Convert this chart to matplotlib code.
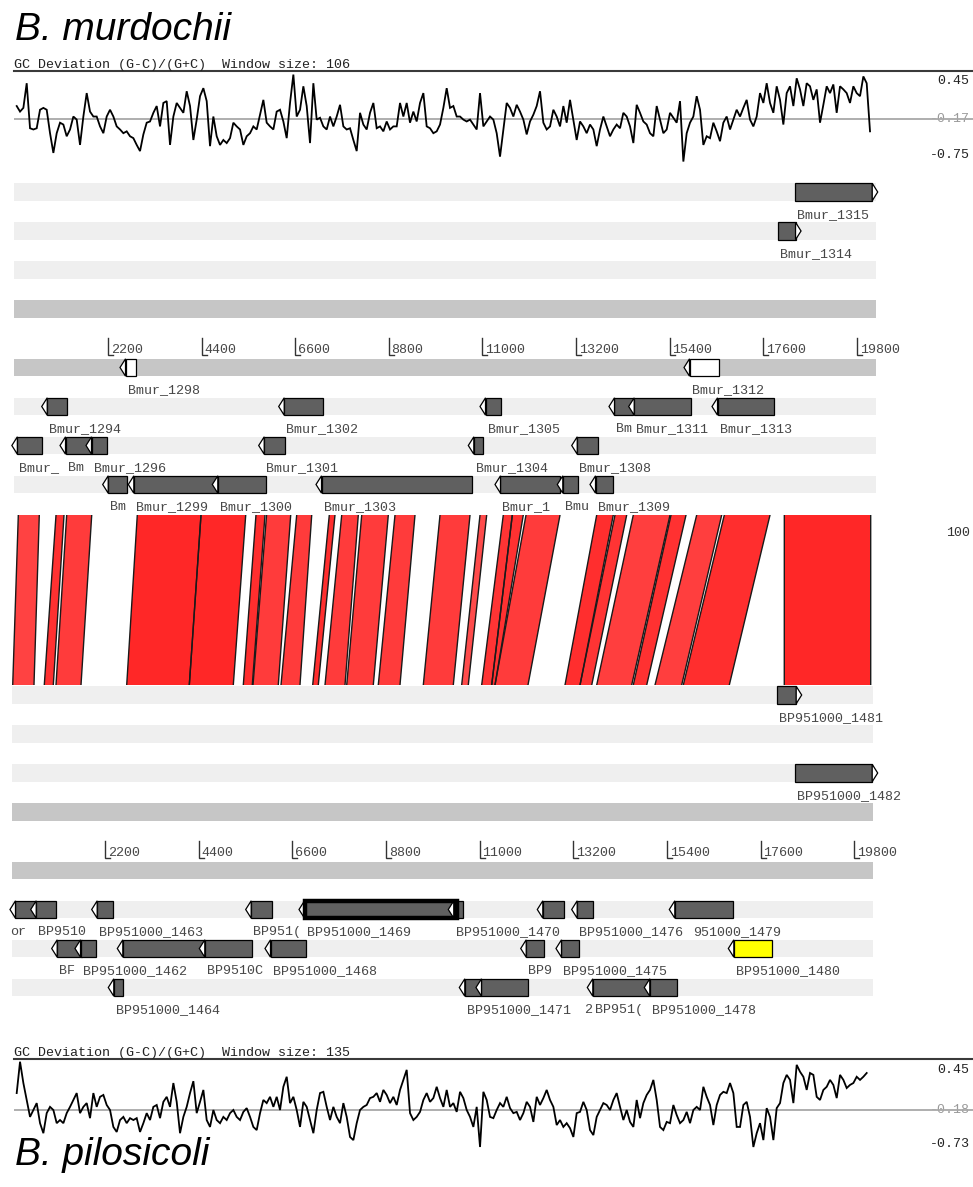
import numpy as np
import matplotlib
matplotlib.use("Agg")
import matplotlib.pyplot as plt
from matplotlib.patches import Polygon, Rectangle
from matplotlib.transforms import blended_transform_factory as blend

# ---------------------------------------------------------------- data
top_name = "B. murdochii"
bot_name = "B. pilosicoli"
top_length = 20250
bot_length = 20236
top_window = 106
bot_window = 135

# GC deviation (G-C)/(G+C), sliding windows across each region
gc_top_range = (54, 20107)
gc_top = [
    0.04, -0.05, 0.01, 0.41, -0.32, -0.34, -0.32, -0.02, 0.01, -0.02,
    -0.40, -0.72, -0.40, -0.23, -0.26, -0.45, -0.34, -0.13, -0.18, -0.59,
    -0.13, 0.25, -0.05, -0.13, -0.13, -0.29, -0.40, -0.13, -0.02, -0.13,
    -0.29, -0.34, -0.40, -0.37, -0.45, -0.48, -0.59, -0.69, -0.42, -0.23,
    -0.21, -0.07, 0.04, -0.29, 0.09, 0.12, -0.59, -0.13, 0.09, 0.01,
    -0.07, 0.28, 0.04, -0.51, -0.18, 0.20, 0.33, 0.12, -0.61, -0.13,
    -0.45, -0.59, -0.51, -0.56, -0.48, -0.23, -0.29, -0.34, -0.59, -0.45,
    -0.40, -0.29, -0.34, -0.10, 0.14, -0.23, -0.29, -0.34, -0.05, -0.02,
    -0.21, -0.48, 0.09, 0.55, -0.13, -0.02, 0.36, 0.04, -0.56, 0.41,
    -0.18, -0.15, -0.29, -0.34, -0.13, -0.29, -0.13, 0.06, -0.29, -0.34,
    -0.32, -0.51, -0.69, -0.07, -0.26, -0.34, -0.07, 0.09, -0.32, -0.29,
    -0.37, -0.21, -0.34, -0.29, -0.29, 0.09, -0.13, 0.09, -0.23, -0.05,
    -0.21, 0.09, 0.25, -0.29, -0.32, -0.40, -0.37, -0.26, 0.01, 0.33,
    0.01, 0.04, -0.13, -0.13, -0.18, -0.21, -0.18, -0.26, -0.34, 0.25,
    -0.29, -0.21, -0.13, -0.18, -0.40, -0.78, -0.34, 0.09, 0.01, -0.13,
    0.06, -0.05, -0.18, -0.42, -0.21, -0.10, 0.04, 0.28, -0.23, -0.34,
    -0.29, -0.02, -0.13, -0.29, 0.04, -0.23, 0.14, -0.18, -0.51, -0.21,
    -0.29, -0.40, -0.26, -0.34, -0.61, -0.34, -0.13, -0.29, -0.45, -0.34,
    -0.26, -0.32, -0.07, -0.13, -0.29, -0.56, 0.06, -0.07, -0.21, -0.26,
    -0.40, -0.45, 0.04, -0.18, -0.40, -0.34, -0.07, -0.15, -0.23, 0.12,
    -0.86, -0.40, -0.23, -0.13, 0.20, -0.02, -0.59, -0.45, -0.48, -0.23,
    -0.37, -0.53, -0.23, -0.13, -0.34, -0.18, -0.02, -0.13, 0.01, 0.14,
    -0.18, -0.29, -0.13, 0.25, 0.09, 0.41, 0.09, -0.07, 0.36, 0.14,
    -0.26, 0.25, 0.36, 0.04, 0.49, 0.31, 0.04, 0.41, 0.36, 0.14,
    0.31, -0.23, 0.06, 0.36, 0.25, 0.39, -0.07, 0.36, 0.31, 0.25,
    0.09, 0.36, 0.25, 0.20, 0.52, 0.41, -0.37,
]
gc_top_marks = [0.45, -0.17, -0.75]

gc_bot_range = (54, 20029)
gc_bot = [
    0.09, 0.59, 0.25, -0.02, -0.29, -0.18, -0.07, -0.39, -0.55, -0.23,
    -0.13, -0.18, -0.39, -0.34, -0.39, -0.23, -0.13, -0.02, 0.09, -0.23,
    -0.13, -0.07, -0.31, 0.09, -0.13, 0.03, 0.06, -0.10, -0.18, -0.45,
    -0.53, -0.34, -0.29, -0.39, -0.31, -0.34, -0.31, -0.53, -0.39, -0.23,
    -0.34, -0.13, -0.10, -0.31, -0.05, 0.03, -0.13, 0.25, -0.05, -0.55,
    -0.29, -0.13, 0.09, 0.28, -0.23, -0.05, 0.14, -0.34, -0.45, -0.18,
    -0.34, -0.39, -0.29, -0.34, -0.23, -0.18, -0.29, -0.34, -0.21, -0.15,
    -0.29, -0.45, -0.50, -0.23, -0.02, -0.07, 0.03, -0.13, 0.03, -0.18,
    0.19, 0.35, -0.07, 0.03, -0.18, -0.45, -0.05, -0.13, -0.34, -0.55,
    -0.18, 0.09, 0.11, -0.13, -0.34, -0.13, -0.29, -0.39, -0.07, -0.29,
    -0.61, -0.66, -0.39, -0.18, -0.13, -0.10, 0.01, 0.03, 0.09, -0.05,
    0.14, 0.06, -0.07, 0.03, -0.10, 0.14, 0.30, 0.46, -0.23, -0.34,
    -0.29, -0.21, -0.02, 0.09, -0.05, 0.01, 0.19, 0.01, -0.13, 0.14,
    -0.13, -0.07, -0.21, 0.11, 0.01, -0.18, -0.29, -0.45, -0.13, -0.77,
    0.11, -0.02, -0.29, -0.31, -0.18, -0.07, -0.13, 0.03, -0.15, -0.23,
    -0.21, -0.34, -0.23, -0.05, -0.13, -0.37, 0.03, -0.10, 0.01, 0.14,
    -0.02, -0.13, -0.42, -0.34, -0.45, -0.39, -0.47, -0.61, -0.23, -0.21,
    -0.05, -0.18, -0.50, -0.58, -0.29, -0.18, -0.07, -0.10, -0.18, -0.02,
    0.09, -0.13, -0.34, -0.18, -0.37, -0.45, -0.02, -0.31, -0.07, 0.06,
    0.14, 0.30, -0.02, -0.45, -0.50, -0.37, -0.39, -0.10, -0.26, -0.39,
    -0.34, -0.21, -0.39, -0.18, -0.13, -0.18, 0.19, 0.03, -0.10, -0.42,
    -0.10, 0.06, 0.11, 0.09, 0.25, 0.09, -0.45, -0.45, -0.10, -0.05,
    -0.29, -0.77, -0.55, -0.39, -0.66, -0.15, -0.29, -0.66, -0.15, -0.07,
    0.25, 0.38, 0.30, -0.07, 0.54, 0.43, 0.35, 0.14, 0.41, 0.38,
    0.03, -0.02, 0.14, 0.19, 0.30, 0.22, 0.01, 0.38, 0.30, 0.17,
    0.22, 0.25, 0.35, 0.30, 0.35, 0.41,
]
gc_bot_marks = [0.45, -0.18, -0.73]

scale_ticks = [2200, 4400, 6600, 8800, 11000, 13200, 15400, 17600, 19800]

# genes: start, end, strand, track, kind, label
top_genes = [
    (18344, 20288, 1, "f1", "cds", "Bmur_1315"),
    (17937, 18486, 1, "f2", "cds", "Bmur_1314"),
    (2482, 2851, -1, "rs", "misc", "Bmur_1298"),
    (15736, 16565, -1, "rs", "misc", "Bmur_1312"),
    (642, 1229, -1, "r1", "cds", "Bmur_1294"),
    (6211, 7259, -1, "r1", "cds", "Bmur_1302"),
    (10942, 11428, -1, "r1", "cds", "Bmur_1305"),
    (13973, 14537, -1, "r1", "cds", "Bm"),
    (14436, 15907, -1, "r1", "cds", "Bmur_1311"),
    (16394, 17851, -1, "r1", "cds", "Bmur_1313"),
    (-60, 642, -1, "r2", "cds", "Bmur_"),
    (1072, 1817, -1, "r2", "cds", "Bm"),
    (1683, 2183, -1, "r2", "cds", "Bmur_1296"),
    (5741, 6366, -1, "r2", "cds", "Bmur_1301"),
    (10667, 11019, -1, "r2", "cds", "Bmur_1304"),
    (13097, 13722, -1, "r2", "cds", "Bmur_1308"),
    (2075, 2653, -1, "r3", "cds", "Bm"),
    (2677, 4792, -1, "r3", "cds", "Bmur_1299"),
    (4651, 5913, -1, "r3", "cds", "Bmur_1300"),
    (7088, 10747, -1, "r3", "cds", "Bmur_1303"),
    (11294, 12822, -1, "r3", "cds", "Bmur_1"),
    (12758, 13252, -1, "r3", "cds", "Bmu"),
    (13527, 14060, -1, "r3", "cds", "Bmur_1309"),
]

bot_genes = [
    (17980, 18567, 1, "f1", "cds", "BP951000_1481"),
    (18410, 20353, 1, "f3", "cds", "BP951000_1482"),
    (-38, 573, -1, "r1", "cds", ""),
    (449, 1043, -1, "r1", "cds", "BP9510"),
    (1882, 2376, -1, "r1", "cds", "BP951000_1463"),
    (5501, 6112, -1, "r1", "cds", "BP951("),
    (6754, 10460, -1, "r1", "highlight", "BP951000_1469"),
    (10262, 10601, -1, "r1", "cds", "BP951000_1470"),
    (12354, 12981, -1, "r1", "cds", ""),
    (13162, 13670, -1, "r1", "cds", "BP951000_1476"),
    (15456, 16946, -1, "r1", "cds", ""),
    (942, 1647, -1, "r2", "cds", "BF"),
    (1490, 1983, -1, "r2", "cds", "BP951000_1462"),
    (2484, 4545, -1, "r2", "cds", ""),
    (4411, 5657, -1, "r2", "cds", "BP9510C"),
    (5955, 6918, -1, "r2", "cds", "BP951000_1468"),
    (11964, 12511, -1, "r2", "cds", "BP9"),
    (12793, 13334, -1, "r2", "cds", "BP951000_1475"),
    (16843, 17863, -1, "r2", "selected", "BP951000_1480"),
    (2272, 2611, -1, "r3", "cds", "BP951000_1464"),
    (10521, 11031, -1, "r3", "cds", "BP951000_1471"),
    (10913, 12143, -1, "r3", "cds", ""),
    (13529, 15003, -1, "r3", "cds", "BP951("),
    (14868, 15644, -1, "r3", "cds", "BP951000_1478"),
]
# label fragments left over where neighbouring names overlap
bot_notes = [(-38, "r1", "or"), (16013, "r1", "951000_1479"), (13450, "r3", "2")]

# matching regions: top start, top end, bottom start, bottom end, % identity
matches = [
    (92, 585, 26, 526, 91),
    (978, 1166, 768, 980, 96),
    (1229, 1817, 1043, 1631, 93),
    (2888, 4385, 2705, 4176, 99),
    (4385, 5436, 4176, 5210, 99),
    (5677, 5889, 5445, 5656, 97),
    (5926, 6493, 5673, 6267, 93),
    (6634, 6987, 6331, 6777, 93),
    (7400, 7534, 7076, 7207, 97),
    (7692, 8082, 7365, 7835, 93),
    (8162, 8787, 7875, 8500, 93),
    (8944, 9414, 8617, 9127, 93),
    (10002, 10707, 9675, 10380, 93),
    (10942, 11099, 10577, 10732, 88),
    (11489, 11701, 11047, 11282, 95),
    (11701, 11959, 11282, 11360, 96),
    (12023, 12822, 11360, 12135, 93),
    (13684, 14074, 13005, 13358, 97),
    (14114, 14389, 13358, 13633, 95),
    (14544, 15407, 13750, 14572, 92),
    (15431, 15783, 14610, 14925, 96),
    (16034, 16622, 15120, 15747, 92),
    (16683, 17757, 15785, 16866, 97),
    (18093, 20123, 18158, 20189, 99),
]
identity_max = 100

# ---------------------------------------------------------------- layout
W, H = 973, 1187
BP_PER_PX = 23.5
TOP_ORIGIN = 14.4
BOT_ORIGIN = 11.6
ROW_PX = 39.0
TRACK_Y = {"f1": 0, "f2": 1, "f3": 2, "fs": 3, "rs": 4.5, "r1": 5.5, "r2": 6.5, "r3": 7.5}
STRAND_TRACKS = ("fs", "rs")
BAND = 17.4 / ROW_PX
HEAD = 5.5 * BP_PER_PX
PAD = 2.0 * BP_PER_PX

MONO = "Liberation Mono"
MONO_SIZE = 9.6
LABEL_COLOR = "#474747"
LIGHT_BAND = "#efefef"
DARK_BAND = "#c6c6c6"
KIND_FACE = {"cds": "#606060", "highlight": "#606060", "misc": "white", "selected": "#ffff00"}

fig = plt.figure(figsize=(W / 100, H / 100), dpi=100)
fig.patch.set_facecolor("white")


def px_axes(top, bottom):
    ax = fig.add_axes([0, 1 - bottom / H, 1, (bottom - top) / H])
    ax.set_facecolor("none")
    for s in ax.spines.values():
        s.set_visible(False)
    ax.set_xticks([])
    ax.set_yticks([])
    return ax


def set_x(ax, origin):
    ax.set_xlim(-origin * BP_PER_PX, (W - origin) * BP_PER_PX)


def gc_panel(top_px, bottom_px, centre_px, px_per_unit, values, span, marks, window):
    ax = px_axes(top_px, bottom_px)
    set_x(ax, TOP_ORIGIN)
    centre = marks[1]
    ax.set_ylim(centre - (bottom_px - centre_px) / px_per_unit,
                centre + (centre_px - top_px) / px_per_unit)
    ax.spines["top"].set_visible(True)
    ax.spines["top"].set_color("#3a3a3a")
    ax.spines["top"].set_linewidth(1.5)
    ax.spines["top"].set_bounds(0, ax.get_xlim()[1])
    ax.hlines(centre, 0, ax.get_xlim()[1], color="#a8a8a8", lw=1.3, zorder=1)
    xs = np.linspace(span[0], span[1], len(values))
    ax.plot(xs, values, color="black", lw=1.3, zorder=2, clip_on=False,
            solid_joinstyle="miter")
    tr = blend(ax.transAxes, ax.transData)
    for v in marks:
        ax.text(0.9965, v, f"{v:.2f}", transform=tr, ha="right", va="center",
                family=MONO, fontsize=MONO_SIZE,
                color="#9a9a9a" if v == centre else "#222222", zorder=0)
    ax.text(0, 1.0, f"GC Deviation (G-C)/(G+C)  Window size: {window}",
            transform=blend(ax.transData, ax.transAxes), ha="left", va="bottom",
            family=MONO, fontsize=MONO_SIZE, color="#222222")
    return ax


def draw_gene(ax, start, end, strand, y, kind):
    h = BAND
    if strand > 0:
        box0, box1, tip, base = start, end - HEAD, end, end - HEAD
    else:
        box0, box1, tip, base = start + HEAD, end, start, start + HEAD
    ax.add_patch(Rectangle((box0, y - h / 2), box1 - box0, h, fc=KIND_FACE[kind],
                           ec="black", lw=0.9, zorder=3))
    ax.add_patch(Polygon([(tip, y), (base, y - h / 2), (base, y + h / 2)], closed=True,
                         fc="white", ec="black", lw=0.9, zorder=3))
    if kind == "highlight":
        ax.add_patch(Rectangle((box0, y - h / 2), box1 - box0, h, fill=False,
                               ec="black", lw=3.2, zorder=5))
    return box0


def track_panel(top_px, bottom_px, first_row_px, origin, length, genes, notes):
    ax = px_axes(top_px, bottom_px)
    set_x(ax, origin)
    ax.set_ylim((bottom_px - first_row_px) / ROW_PX, -(first_row_px - top_px) / ROW_PX)
    for name, y in TRACK_Y.items():
        ax.add_patch(Rectangle((0, y - BAND / 2), length, BAND,
                               fc=DARK_BAND if name in STRAND_TRACKS else LIGHT_BAND,
                               ec="none", zorder=1))
    # scale between the two strand lines
    ys = TRACK_Y["rs"]
    for t in scale_ticks:
        ax.plot([t, t, t + 5 * BP_PER_PX], [ys - 29.6 / ROW_PX, ys - 12.6 / ROW_PX, ys - 12.6 / ROW_PX],
                color="#333333", lw=1.0, zorder=2, solid_joinstyle="miter")
        ax.text(t + 2.7 * BP_PER_PX, ys - 17.6 / ROW_PX, str(t), ha="left", va="center",
                family=MONO, fontsize=MONO_SIZE, color=LABEL_COLOR)
    for start, end, strand, track, kind, label in genes:
        y = TRACK_Y[track]
        box0 = draw_gene(ax, start, end, strand, y, kind)
        if label:
            ax.text(box0 + PAD, y + 0.58, label, ha="left", va="center",
                    family=MONO, fontsize=MONO_SIZE, color=LABEL_COLOR, zorder=4)
    for pos, track, text in notes:
        ax.text(pos, TRACK_Y[track] + 0.58, text, ha="left", va="center",
                family=MONO, fontsize=MONO_SIZE, color=LABEL_COLOR, zorder=4)
    return ax


def identity_colour(p):
    g = 0.14 + (identity_max - p) * 0.013
    return (1.0, g, g)


# ---------------------------------------------------------------- panels
gc_panel(70.7, 175, 119.0, 61.7, gc_top, gc_top_range, gc_top_marks, top_window)
ax_top = track_panel(170, 515, 192, TOP_ORIGIN, top_length, top_genes, [])
ax_bot = track_panel(685, 1030, 695, BOT_ORIGIN, bot_length, bot_genes, bot_notes)
gc_panel(1059.3, 1175, 1110.0, 62.7, gc_bot, gc_bot_range, gc_bot_marks, bot_window)

ax_cmp = px_axes(515, 685)
set_x(ax_cmp, TOP_ORIGIN)
ax_cmp.set_ylim(0, 1)
to_cmp = ax_bot.transData + ax_cmp.transData.inverted()
for ts, te, bs, be, ident in matches:
    (bs_c, _), (be_c, _) = to_cmp.transform([(bs, 0), (be, 0)])
    ax_cmp.add_patch(Polygon([(ts, 1), (te, 1), (be_c, 0), (bs_c, 0)], closed=True,
                             fc=identity_colour(ident), ec="none", zorder=2))
    ax_cmp.plot([ts, bs_c], [1, 0], color="#1a1a1a", lw=1.0, zorder=3)
    ax_cmp.plot([te, be_c], [1, 0], color="#1a1a1a", lw=1.0, zorder=3)
ax_cmp.text(0.985, 0.894, str(identity_max), transform=ax_cmp.transAxes, ha="center",
            va="center", family=MONO, fontsize=MONO_SIZE, color="#333333")

fig.text(15 / W, 1 - 40 / H, top_name, family="Liberation Sans", style="italic",
         fontsize=28, va="baseline", ha="left")
fig.text(15 / W, 1 - 1165 / H, bot_name, family="Liberation Sans", style="italic",
         fontsize=28, va="baseline", ha="left")

fig.savefig("out.png", dpi=100, facecolor="white")
